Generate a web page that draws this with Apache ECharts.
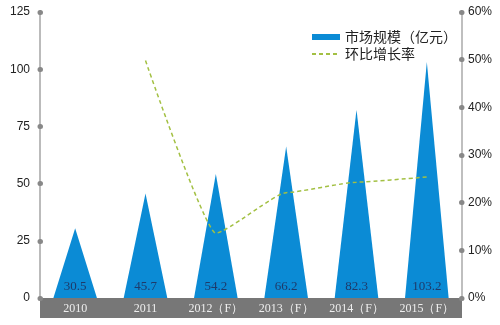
<!DOCTYPE html>
<html>
<head>
<meta charset="utf-8">
<script src="https://cdn.jsdelivr.net/npm/echarts@6/dist/echarts.min.js"></script>
<style>
  html, body { margin: 0; padding: 0; background: #fff; }
  #chart { width: 500px; height: 325px; }
</style>
</head>
<body>
<div id="chart"></div>
<script>
// Market size (100 million yuan) and year-on-year growth, 2010–2015 (F = forecast)
const categories = ['2010', '2011', '2012（F）', '2013（F）', '2014（F）', '2015（F）'];
const marketSize = [30.5, 45.7, 54.2, 66.2, 82.3, 103.2];
const growthRate = [null, 49.8, 13.6, 22.1, 24.3, 25.4];
const leftTicks = { min: 0, max: 125, interval: 25 };
const rightTicks = { min: 0, max: 60, interval: 10 };

// label offsets for the growth labels, as [dx, dy] from the point
const growthLabelOffsets = [null, [-4, -4], [-38, -15], [-41, -9], [-38, -8], [-37, -8]];

const serif = '"Liberation Serif", "DejaVu Serif", serif';
const sans = '"Liberation Sans", Arial, sans-serif';
const cjk = '"Noto Sans CJK SC", sans-serif';

const chart = echarts.init(document.getElementById('chart'));

const dotTick = {
  show: true,
  inside: true,
  length: 0.5,
  lineStyle: { color: '#888', width: 5, cap: 'round' }
};

chart.setOption({
  animation: false,
  grid: { left: 40, right: 38, top: 12, bottom: 27 },
  legend: {
    orient: 'vertical',
    left: 306,
    top: 25,
    itemGap: 3,
    itemWidth: 28,
    itemHeight: 6,
    textStyle: { fontFamily: cjk, fontSize: 14, color: '#222' },
    data: [
      { name: '市场规模（亿元）', icon: 'rect' },
      { name: '环比增长率', itemStyle: { opacity: 0 } }
    ]
  },
  xAxis: {
    type: 'category',
    data: categories,
    offset: 10,
    axisLine: { show: true, onZero: false, lineStyle: { color: '#777', width: 20, cap: 'butt' } },
    axisTick: { show: false },
    axisLabel: {
      margin: -5,
      color: '#eee',
      fontFamily: serif,
      fontSize: 12,
      interval: 0
    }
  },
  yAxis: [
    {
      type: 'value',
      min: leftTicks.min,
      max: leftTicks.max,
      interval: leftTicks.interval,
      splitLine: { show: false },
      axisLine: { show: true, lineStyle: { color: '#bbb', width: 2 } },
      axisTick: dotTick,
      axisLabel: { color: '#222', fontFamily: sans, fontSize: 12, margin: 10 }
    },
    {
      type: 'value',
      min: rightTicks.min,
      max: rightTicks.max,
      interval: rightTicks.interval,
      splitLine: { show: false },
      axisLine: { show: true, lineStyle: { color: '#aaa', width: 1.5 } },
      axisTick: dotTick,
      axisLabel: { color: '#222', fontFamily: sans, fontSize: 12, margin: 6, formatter: '{value}%' }
    }
  ],
  series: [
    {
      name: '市场规模（亿元）',
      type: 'pictorialBar',
      symbol: 'triangle',
      symbolSize: ['100%', '100%'],
      barWidth: '62%',
      itemStyle: { color: '#0b8bd5' },
      data: marketSize,
      label: {
        show: true,
        position: 'insideBottom',
        distance: 5,
        color: '#1e3a6a',
        fontFamily: serif,
        fontSize: 13
      },
      z: 2
    },
    {
      name: '环比增长率',
      type: 'line',
      yAxisIndex: 1,
      smooth: 0.15,
      smoothMonotone: 'x',
      symbol: 'none',
      connectNulls: false,
      itemStyle: { color: '#a3c043' },
      lineStyle: { color: '#a3c043', width: 1.5, type: [4, 3] },
      data: growthRate.map((v, i) => v === null ? null : {
        value: v,
        label: {
          show: true,
          position: 'top',
          offset: growthLabelOffsets[i],
          formatter: v.toFixed(1) + '%',
          color: '#222',
          fontFamily: serif,
          fontSize: 12
        }
      }),
      z: 3
    }
  ]
});
</script>
</body>
</html>
